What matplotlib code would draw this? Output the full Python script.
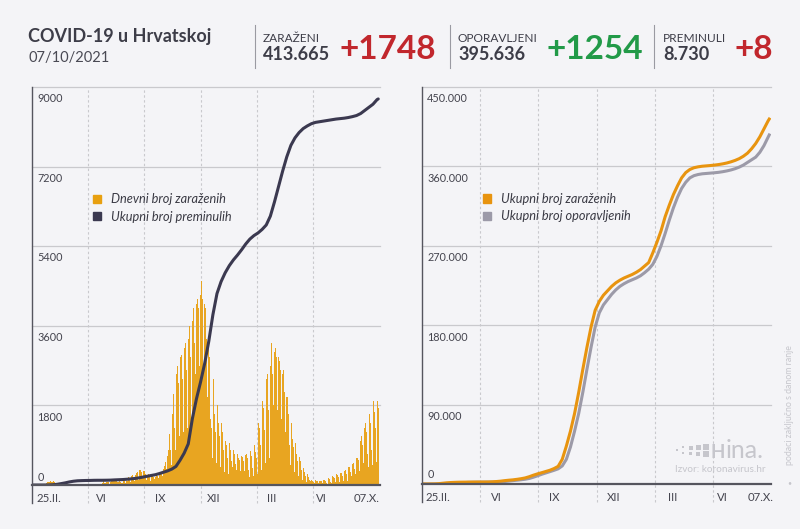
import matplotlib.pyplot as plt
import matplotlib.transforms as mtransforms
from matplotlib.patches import Patch, Rectangle
import numpy as np

# ---- data ----
# daily new cases, one row per week, first day 25.II.2020 (Tue)
daily_cases = [
    1, 0, 0, 1, 0, 1, 0,
    2, 2, 1, 1, 1, 2, 1,
    3, 4, 5, 8, 12, 10, 9,
    15, 20, 28, 38, 50, 58, 56,
    76, 60, 58, 91, 71, 67, 77,
    77, 96, 69, 75, 63, 50, 43,
    46, 52, 54, 34, 48, 29, 20,
    23, 22, 30, 16, 17, 20, 14,
    13, 13, 15, 11, 10, 7, 6,
    8, 6, 7, 5, 4, 3, 2,
    5, 4, 3, 2, 2, 1, 1,
    2, 1, 3, 1, 1, 0, 0,
    1, 0, 1, 0, 0, 0, 0,
    0, 1, 0, 0, 0, 0, 0,
    1, 0, 1, 2, 0, 1, 0,
    2, 1, 4, 8, 5, 4, 3,
    10, 14, 20, 18, 30, 45, 30,
    60, 50, 95, 80, 52, 66, 36,
    65, 60, 70, 80, 70, 55, 32,
    60, 80, 110, 140, 100, 80, 40,
    90, 100, 110, 90, 80, 60, 30,
    70, 80, 100, 60, 50, 40, 25,
    50, 70, 80, 90, 80, 55, 35,
    80, 100, 140, 180, 150, 120, 60,
    150, 200, 180, 220, 200, 150, 90,
    200, 230, 250, 280, 300, 220, 120,
    300, 350, 370, 340, 290, 230, 150,
    260, 310, 320, 280, 240, 180, 110,
    220, 250, 260, 230, 200, 160, 90,
    200, 230, 240, 220, 180, 140, 80,
    190, 220, 250, 230, 200, 150, 80,
    230, 260, 280, 290, 250, 200, 110,
    360, 420, 500, 520, 480, 360, 220,
    650, 800, 1000, 1150, 1100, 800, 450,
    1400, 1600, 1900, 2050, 1800, 1300, 800,
    2300, 2500, 2600, 2700, 2300, 1800, 1100,
    2700, 2900, 2950, 2800, 2400, 1900, 1200,
    2900, 3100, 3200, 3000, 2600, 2000, 1300,
    3300, 3500, 3600, 3400, 2900, 2300, 1500,
    3700, 4000, 4000, 3800, 3200, 2500, 1700,
    4100, 4300, 4200, 4000, 3400, 2700, 1800,
    4300, 4550, 4620, 4200, 3500, 2600, 1700,
    4100, 4000, 3600, 3300, 2800, 2000, 1200,
    3200, 2900, 2600, 1500, 1800, 1300, 600,
    2300, 2400, 2000, 1600, 1200, 900, 500,
    1900, 1800, 1600, 1400, 1100, 800, 400,
    1500, 1400, 1200, 1000, 800, 600, 300,
    1100, 1000, 900, 800, 600, 450, 250,
    950, 900, 800, 700, 550, 400, 200,
    800, 780, 700, 600, 480, 350, 180,
    700, 680, 620, 560, 450, 320, 170,
    650, 640, 600, 540, 430, 310, 160,
    680, 700, 650, 600, 480, 350, 180,
    750, 780, 720, 650, 520, 380, 200,
    850, 900, 820, 750, 600, 430, 240,
    1300, 1400, 1300, 1150, 900, 650, 350,
    1800, 1900, 1750, 1600, 1250, 900, 500,
    2400, 2600, 2500, 2200, 1700, 1100, 600,
    2700, 2900, 3200, 3000, 2500, 1800, 1000,
    3000, 3300, 3100, 2900, 2400, 1700, 900,
    2900, 3000, 2800, 2600, 2100, 1500, 800,
    2500, 2600, 2400, 2100, 1700, 1200, 600,
    2000, 2000, 1800, 1600, 1300, 900, 450,
    1400, 1400, 1200, 1050, 850, 600, 300,
    1000, 950, 850, 700, 550, 400, 200,
    650, 640, 550, 450, 350, 250, 120,
    420, 380, 300, 250, 200, 130, 70,
    250, 220, 180, 150, 120, 80, 45,
    120, 110, 100, 80, 60, 45, 25,
    110, 100, 90, 80, 60, 45, 25,
    100, 110, 100, 90, 70, 50, 25,
    110, 120, 110, 100, 80, 55, 30,
    140, 150, 140, 130, 100, 70, 40,
    190, 210, 200, 180, 150, 100, 60,
    230, 250, 240, 220, 180, 120, 70,
    260, 280, 270, 250, 200, 140, 80,
    320, 350, 330, 300, 240, 170, 100,
    400, 420, 400, 360, 290, 200, 120,
    480, 520, 500, 450, 360, 250, 150,
    620, 650, 620, 560, 450, 320, 180,
    1000, 1100, 1000, 900, 700, 500, 280,
    1300, 1400, 1350, 1200, 950, 700, 400,
    1550, 1600, 1550, 1400, 1100, 800, 450,
    1800, 1900, 1850, 1650, 1300, 950, 520,
    1950, 1900, 1748,
]

# weekly readings of the cumulative lines (day index from 25.II.2020)
week_days = list(range(0, 589, 7)) + [590]
total_deaths = [
    0, 0, 0, 0, 1, 6, 15, 31, 48, 69,
    85, 95, 99, 102, 103, 106, 107, 107, 108, 110,
    115, 119, 123, 130, 138, 148, 162, 180, 198, 216,
    233, 260, 290, 320, 360, 420, 560, 720, 930, 1500,
    1950, 2330, 2750, 3250, 3850, 4330, 4600, 4800, 4960, 5090,
    5200, 5320, 5450, 5560, 5640, 5700, 5780, 5880, 6080, 6400,
    6750, 7100, 7420, 7680, 7850, 7970, 8060, 8120, 8170, 8200,
    8215, 8230, 8245, 8260, 8275, 8285, 8295, 8310, 8330, 8355,
    8400, 8470, 8540, 8610, 8715, 8730,
]
total_cases = [
    0, 5, 50, 100, 400, 900, 1400, 1700, 1900, 2050,
    2120, 2160, 2200, 2230, 2250, 2260, 2300, 2480, 2800, 3200,
    3800, 4300, 4700, 5300, 6000, 6900, 8300, 10000, 11500, 12800,
    14200, 15600, 17500, 20000, 28000, 43000, 60000, 80000, 104000, 130000,
    155000, 178000, 197000, 207000, 214000, 219000, 224000, 228000, 231000, 233500,
    235500, 237500, 240000, 243000, 247000, 251000, 262000, 274000, 287000, 303000,
    316000, 328000, 338000, 347000, 353000, 356500, 358500, 359500, 360200, 360600,
    361000, 361500, 362100, 362900, 363900, 365200, 366800, 368800, 371500, 375000,
    380000, 386000, 393500, 402500, 411500, 413665,
]
total_recovered = [
    0, 0, 0, 0, 10, 60, 200, 400, 700, 1100,
    1500, 1800, 1950, 2050, 2100, 2130, 2160, 2180, 2220, 2400,
    2800, 3300, 3800, 4300, 4800, 5400, 6300, 7700, 9300, 11000,
    12500, 14000, 15500, 17200, 20500, 28000, 42000, 60000, 80000, 104000,
    130000, 155000, 178000, 194000, 203000, 209000, 215000, 220000, 224000, 227000,
    229500, 231500, 233500, 236000, 239500, 243500, 249000, 258000, 270000, 284000,
    299000, 313000, 325000, 335000, 342000, 347000, 349500, 350800, 351600, 352000,
    352400, 352800, 353300, 354000, 354900, 356000, 357400, 359200, 361500, 364500,
    367500, 370500, 376000, 383500, 393000, 395636,
]

month_labels = ['25.II.', 'VI', 'IX', 'XII', 'III', 'VI', '07.X.']
left_yticks = [0, 1800, 3600, 5400, 7200, 9000]
left_ylabels = ['0', '1800', '3600', '5400', '7200', '9000']
right_yticks = [0, 90000, 180000, 270000, 360000, 450000]
right_ylabels = ['0', '90.000', '180.000', '270.000', '360.000', '450.000']

header_titles = ['ZARAŽENI', 'OPORAVLJENI', 'PREMINULI']
header_totals = ['413.665', '395.636', '8.730']
header_new = ['+1748', '+1254', '+8']

# ---- style ----
BG = '#f4f4f7'
TXT = '#3d3d48'
GRID = '#c9c9cd'
plt.rcParams['font.family'] = ['Lato', 'DejaVu Sans']

fig = plt.figure(figsize=(8, 5.29), dpi=100, facecolor=BG)
W, H = 800, 529


def fx(x):
    return x / W


def fy(y):
    return 1 - y / H


# header
fig.text(fx(28), fy(42), 'COVID-19 u Hrvatskoj', fontsize=13, weight='bold',
         color=TXT, va='baseline')
fig.text(fx(28), fy(62), '07/10/2021', fontsize=10.5, color='#4a4a54', va='baseline')

sep_x = [255, 450, 654]
title_x = [263, 458, 663]
new_x = [436, 643, 773]
new_col = ['#c1272d', '#229a48', '#c1272d']
for i in range(3):
    fig.add_artist(plt.Line2D([fx(sep_x[i])] * 2, [fy(25), fy(68)], color='#9a9aa2', lw=0.8))
    fig.text(fx(title_x[i]), fy(41.7), header_titles[i], fontsize=8.6, color=TXT, va='baseline')
    fig.text(fx(title_x[i]), fy(60), header_totals[i], fontsize=13, weight='bold',
             color=TXT, va='baseline')
    fig.text(fx(new_x[i]), fy(58.5), header_new[i], fontsize=24, weight='bold',
             color=new_col[i], va='baseline', ha='right')

# axes
ax1 = fig.add_axes([fx(32), 44 / H, 348 / W, 398 / H])
ax2 = fig.add_axes([fx(422), 45 / H, 349 / W, 397 / H])

days = np.arange(len(daily_cases))
ax1.bar(days, daily_cases, width=1.0, color='#e8a521', linewidth=0, zorder=2)
ax1.plot(week_days, total_deaths, color='#3b3950', lw=2.2, zorder=4,
         solid_capstyle='round')

ax2.plot(week_days, total_recovered, color='#9c9aa8', lw=2.2, zorder=3)
ax2.plot(week_days, total_cases, color='#e8940f', lw=2.2, zorder=4)

layout = [
    (ax1, 9000, left_yticks, left_ylabels,
     [95.5, 191, 287, 384, 479], [7, 118, 218, 309, 409, 493, 593], -8.4, 5.3),
    (ax2, 450000, right_yticks, right_ylabels,
     [98, 197, 297.5, 395, 495], [5, 126, 224.5, 325, 425, 510, 597], -8.6, 7.0),
]
for ax, ymax, yt, yl, vgrid, lab_x, off_top, off_zero in layout:
    ax.patch.set_alpha(0)
    ax.set_xlim(-0.5, 593)
    ax.set_ylim(0, ymax)
    for s in ax.spines.values():
        s.set_visible(False)
    ax.set_xticks([])
    ax.set_yticks([])
    tr = mtransforms.blended_transform_factory(ax.transData, ax.transAxes)
    for v in yt[1:]:
        ax.axhline(v, color=GRID, lw=0.9, zorder=0, clip_on=False)
    for gx in vgrid:
        ax.plot([gx, gx], [-0.045, 1], transform=tr, color=GRID, lw=0.8,
                dashes=(2.2, 2.2), zorder=0, clip_on=False)
    ax.plot([0, 0], [-0.045, 1], transform=ax.transAxes, color='#55555e', lw=1.0,
            clip_on=False, zorder=5)
    ax.axhline(0, color='#55555e', lw=1.6, zorder=5, clip_on=False)
    for v, s in zip(yt, yl):
        off = off_zero if v == 0 else off_top
        ax.annotate(s, (0, v), xytext=(3.8, off), textcoords='offset points',
                    xycoords=('axes fraction', 'data'), fontsize=7.8, color='#44444e',
                    va='center', ha='left')
    for i, (lx, s) in enumerate(zip(lab_x, month_labels)):
        ha = 'left' if i == 0 else ('right' if i == len(month_labels) - 1 else 'center')
        ax.annotate(s, (lx, 0), xycoords=tr, xytext=(0, -10), textcoords='offset points',
                    fontsize=8.2, color='#44444e', va='center', ha=ha)

leg_kw = dict(loc='center left', frameon=False, borderpad=0, borderaxespad=0,
              handlelength=0.65, handleheight=0.65, handletextpad=0.75,
              labelspacing=0.42, prop={'style': 'italic', 'size': 9.2})
l1 = ax1.legend([Patch(color='#e8a010'), Patch(color='#3b3950')],
                ['Dnevni broj zaraženih', 'Ukupni broj preminulih'],
                bbox_to_anchor=(0.175, 0.696), **leg_kw)
l2 = ax2.legend([Patch(color='#e8940f'), Patch(color='#9c9aa8')],
                ['Ukupni broj zaraženih', 'Ukupni broj oporavljenih'],
                bbox_to_anchor=(0.175, 0.696), **leg_kw)
for lg in (l1, l2):
    for t in lg.get_texts():
        t.set_color('#3a3a44')

# source / logo
LOGO = '#c6c6cc'
for (sx, sy, sz) in [(676, 449, 2), (682, 446, 2), (682, 452, 2), (689, 446, 4), (689, 452, 3),
                     (696, 445, 5), (696, 452, 4), (703, 444, 6), (703, 451, 6)]:
    fig.add_artist(Rectangle((fx(sx), fy(sy + sz)), sz / W, sz / H,
                             transform=fig.transFigure, color=LOGO, lw=0))
fig.text(fx(710), fy(458), 'H', fontsize=13.5, weight='bold', color=LOGO, va='baseline')
fig.text(fx(726), fy(458), 'ina.', fontsize=18, color=LOGO, va='baseline')
fig.text(fx(766), fy(470), 'Izvor: koronavirus.hr', fontsize=7.2, color=LOGO,
         ha='right', va='center')
fig.text(fx(789), fy(405), 'podaci zaključno s danom ranje', fontsize=6.3, color=LOGO,
         rotation=90, ha='center', va='center')
fig.text(fx(789), fy(483), '•', fontsize=5, color=LOGO, ha='center', va='center')

fig.savefig('out.png', dpi=100, facecolor=BG)
